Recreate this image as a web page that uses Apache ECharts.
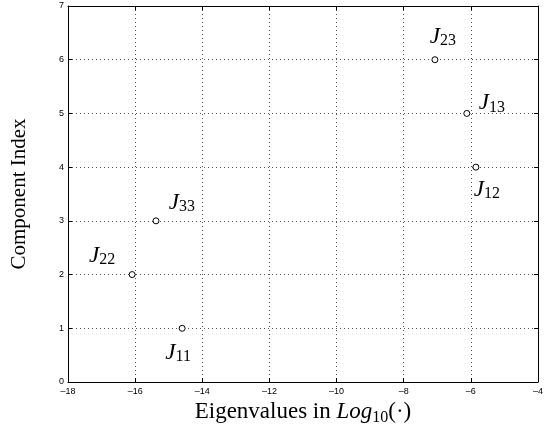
<!DOCTYPE html>
<html>
<head>
<meta charset="utf-8">
<script src="https://cdn.jsdelivr.net/npm/echarts@6/dist/echarts.min.js"></script>
<style>
  html, body { margin: 0; padding: 0; background: #fff; }
  #chart { width: 546px; height: 432px; }
</style>
</head>
<body>
<div id="chart"></div>
<script>
// eigenvalues (log10) per component index
var eigLog = [-14.6, -16.09, -15.38, -5.85, -6.12, -7.07];
var compIndex = [1, 2, 3, 4, 5, 6];
var subs = ['11', '22', '33', '12', '13', '23'];
var xTicks = [-18, -16, -14, -12, -10, -8, -6, -4];
var yTicks = [0, 1, 2, 3, 4, 5, 6, 7];

// where each label sits relative to its point
var labelOffsets = [[-4, 25], [-30, -19], [26, -18], [11, 23], [25, -10], [8, -23]];

var serif = '"Liberation Serif", "DejaVu Serif", serif';
var sans = 'Arial, "Liberation Sans", Helvetica, sans-serif';

var pts = [];
for (var i = 0; i < eigLog.length; i++) {
  pts.push({
    value: [eigLog[i], compIndex[i]],
    sub: subs[i],
    label: { offset: labelOffsets[i] }
  });
}

var chart = echarts.init(document.getElementById('chart'));

function minus(v) { return String(v).replace('-', '\u2013'); }

var tickLabel = { fontFamily: sans, fontSize: 9, color: '#000' };

chart.setOption({
  animation: false,
  backgroundColor: '#fff',
  grid: { left: 68, right: 2, top: 6, bottom: 50 },
  xAxis: [{
    type: 'value', min: xTicks[0], max: xTicks[xTicks.length - 1], interval: 2,
    axisLine: { show: true, onZero: false, lineStyle: { color: '#000', width: 1 } },
    axisTick: { show: true, inside: true, length: 4, lineStyle: { color: '#000' } },
    axisLabel: Object.assign({ margin: 5, formatter: minus }, tickLabel),
    splitLine: { show: true, lineStyle: { color: '#555', type: [1, 3], width: 1 } },
    name: '{r|Eigenvalues in }{i|Log}{s|10}{r|(\u00b7)}',
    nameLocation: 'middle',
    nameGap: 12,
    nameTextStyle: {
      rich: {
        r: { fontFamily: serif, fontSize: 23, color: '#000', lineHeight: 26 },
        i: { fontFamily: serif, fontSize: 23, fontStyle: 'italic', color: '#000', lineHeight: 26 },
        s: { fontFamily: serif, fontSize: 16, color: '#000', verticalAlign: 'bottom', lineHeight: 16 }
      }
    }
  }, {
    type: 'value', min: xTicks[0], max: xTicks[xTicks.length - 1], interval: 2, position: 'top',
    axisLine: { show: true, onZero: false, lineStyle: { color: '#000', width: 1 } },
    axisTick: { show: true, inside: true, length: 4, lineStyle: { color: '#000' } },
    axisLabel: { show: false },
    splitLine: { show: false }
  }],
  yAxis: [{
    type: 'value', min: yTicks[0], max: yTicks[yTicks.length - 1], interval: 1,
    axisLine: { show: true, onZero: false, lineStyle: { color: '#000', width: 1 } },
    axisTick: { show: true, inside: true, length: 4, lineStyle: { color: '#000' } },
    axisLabel: Object.assign({ margin: 4 }, tickLabel),
    splitLine: { show: true, lineStyle: { color: '#555', type: [1, 3], width: 1 } },
    name: 'Component Index',
    nameLocation: 'middle',
    nameGap: 38,
    nameTextStyle: { fontFamily: serif, fontSize: 21, color: '#000' }
  }, {
    type: 'value', min: yTicks[0], max: yTicks[yTicks.length - 1], interval: 1, position: 'right',
    axisLine: { show: true, onZero: false, lineStyle: { color: '#000', width: 1 } },
    axisTick: { show: true, inside: true, length: 4, lineStyle: { color: '#000' } },
    axisLabel: { show: false },
    splitLine: { show: false }
  }],
  series: [{
    type: 'scatter',
    data: pts,
    symbol: 'circle',
    symbolSize: 6,
    itemStyle: { color: '#fff', borderColor: '#000', borderWidth: 1, opacity: 1 },
    label: {
      show: true,
      position: 'inside',
      formatter: function (p) { return '{j|J}{s|' + p.data.sub + '}'; },
      rich: {
        j: { fontFamily: serif, fontSize: 23, fontStyle: 'italic', color: '#000', lineHeight: 24 },
        s: { fontFamily: serif, fontSize: 16, color: '#000', verticalAlign: 'bottom', lineHeight: 14 }
      }
    },
    emphasis: { disabled: true }
  }]
});
</script>
</body>
</html>
